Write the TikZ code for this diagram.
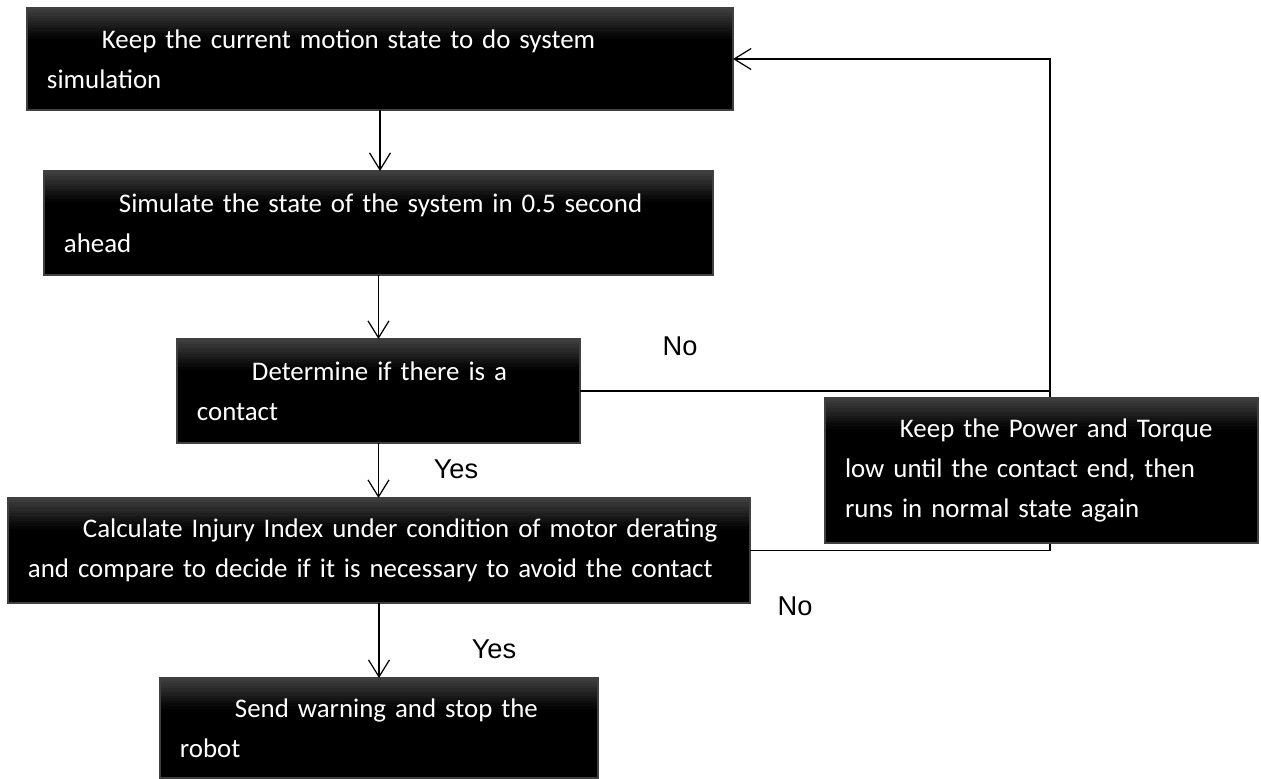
\documentclass[tikz,border=0pt]{standalone}
\usepackage{fontspec}
\setmainfont{Carlito}
\newfontfamily\lblfont{Liberation Sans}
\usepackage{tikz}
\usetikzlibrary{arrows.meta, calc}

\begin{document}
\begin{tikzpicture}[x=0.02cm, y=-0.02cm, font=\fontsize{15.3}{22.8}\selectfont]
\tikzset{every node/.style={outer sep=0mm}}

\tikzstyle{proc}=[draw=black!75, line width=0.6pt, fill=black, text=white, anchor=north west,
  inner xsep=0.4cm, inner ysep=0pt, align=left,
  path picture={\foreach \i [evaluate=\i as \g using int(76+2*\i)] in {0,...,11}
    \fill[black!\g] ([yshift=-\i*1.45pt]path picture bounding box.north west)
      rectangle ([yshift=-\i*1.45pt-1.5pt]path picture bounding box.north east);}]
\tikzstyle{label}=[font=\lblfont\fontsize{15.5}{18}\selectfont]
\tikzstyle{post}=[-{Straight Barb[length=0.34cm, width=0.42cm]}, line width=0.7pt]
\tikzstyle{back}=[line width=0.7pt]

\useasboundingbox (0,0) rectangle (1261,778);

\node[proc, text width=666*0.02cm, minimum height=102*0.02cm] (keep) at (27,8)
  {\mbox{\hspace*{1.1cm}Keep the current motion state to do system}\\\mbox{simulation}};
\node[proc, text width=629*0.02cm, minimum height=104*0.02cm] (sim) at (44,171)
  {\mbox{\hspace*{1.1cm}Simulate the state of the system in 0.5 second}\\\mbox{ahead}};
\node[proc, text width=363*0.02cm, minimum height=104*0.02cm] (det) at (177,339)
  {\mbox{\hspace*{1.1cm}Determine if there is a}\\\mbox{contact}};
\node[proc, text width=702*0.02cm, minimum height=105*0.02cm] (calc) at (8,498)
  {\mbox{\hspace*{1.1cm}Calculate Injury Index under condition of motor derating}\\\mbox{and compare to decide if it is necessary to avoid the contact}};
\node[proc, text width=398*0.02cm, minimum height=100*0.02cm] (warn) at (160,678)
  {\mbox{\hspace*{1.1cm}Send warning and stop the}\\\mbox{robot}};

\coordinate (bend) at (1050,391);

\draw[post] (keep.south) -- (keep.south |- sim.north);
\draw[post] (sim.south) -- (sim.south |- det.north);
\draw[post] (det.south) -- (det.south |- calc.north);
\draw[post] (calc.south) -- (calc.south |- warn.north);

\draw[post] (det.east) -- (det.east -| bend) |- (keep.east);
\draw[back] (calc.east) -- (calc.east -| bend) -- (bend);

\node[proc, text width=393*0.02cm, minimum height=145*0.02cm] (low) at (825,398)
  {\mbox{\hspace*{1.1cm}Keep the Power and Torque}\\\mbox{low until the contact end, then}\\\mbox{runs in normal state again}};

\node[label] (det no) at (680,346) {No};
\node[label] (det yes) at (456,469) {Yes};
\node[label] (calc no) at (795,606) {No};
\node[label] (calc yes) at (494,649) {Yes};

\end{tikzpicture}
\end{document}
